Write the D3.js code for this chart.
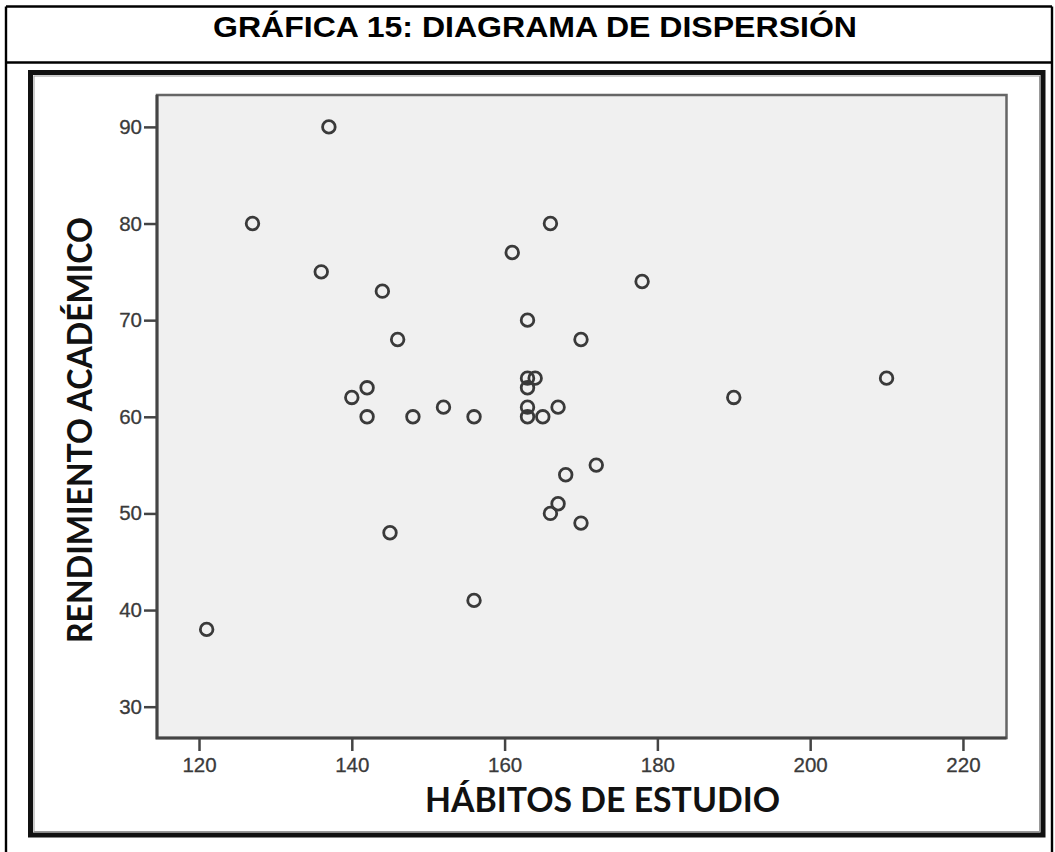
<!DOCTYPE html>
<html>
<head>
<meta charset="utf-8">
<script src="https://cdn.jsdelivr.net/npm/d3@7"></script>
<style>
  body { margin: 0; background: #fff; }
  svg { display: block; }
</style>
</head>
<body>
<div id="chart_div"></div>
<script>
// habitos de estudio (x) vs rendimiento academico (y)
var habitos = [121, 127, 136, 137, 140, 142, 142, 144, 145, 146, 148, 152, 156, 156, 161,
               163, 163, 164, 163, 163, 163, 165, 166, 166, 167, 167, 168, 170, 170, 172,
               178, 190, 210];
var rendimiento = [38, 80, 75, 90, 62, 63, 60, 73, 48, 68, 60, 61, 60, 41, 77,
                   70, 64, 64, 63, 61, 60, 60, 80, 50, 61, 51, 54, 68, 49, 55,
                   74, 62, 64];

var x_ticks = [120, 140, 160, 180, 200, 220];
var y_ticks = [30, 40, 50, 60, 70, 80, 90];

var title_text = 'GRÁFICA 15: DIAGRAMA DE DISPERSIÓN';
var x_label = 'HÁBITOS DE ESTUDIO';
var y_label = 'RENDIMIENTO ACADÉMICO';

function scatter_chart() {
    var width = 1055, height = 852;
    var plot = {left: 157, right: 1006.5, top: 95, bottom: 738};

    var svg = d3.select('#chart_div')
        .append('svg')
        .attr('width', width)
        .attr('height', height);

    // table cell borders round the title
    var table = svg.append('g')
        .attr('stroke', '#000')
        .attr('stroke-width', 2.4);
    table.append('line').attr('x1', 6).attr('x2', 1052).attr('y1', 6.5).attr('y2', 6.5);
    table.append('line').attr('x1', 6).attr('x2', 1052).attr('y1', 62.5).attr('y2', 62.5);
    table.append('line').attr('x1', 6).attr('x2', 6).attr('y1', 6.5).attr('y2', height);
    table.append('line').attr('x1', 1052).attr('x2', 1052).attr('y1', 6.5).attr('y2', height);

    svg.append('text')
        .attr('x', 535)
        .attr('y', 36.5)
        .attr('text-anchor', 'middle')
        .attr('textLength', 644)
        .attr('lengthAdjust', 'spacingAndGlyphs')
        .style('font-family', '"Liberation Sans", Arial, sans-serif')
        .style('font-weight', 700)
        .style('font-size', '30px')
        .text(title_text);

    // thick frame round the pasted chart image
    svg.append('rect')
        .attr('x', 30.5)
        .attr('y', 72.5)
        .attr('width', 1043 - 30.5)
        .attr('height', 835 - 72.5)
        .attr('fill', '#fff')
        .attr('stroke', '#111')
        .attr('stroke-width', 5);
    svg.append('rect')
        .attr('x', 34)
        .attr('y', 76)
        .attr('width', 1039.5 - 34)
        .attr('height', 831.5 - 76)
        .attr('fill', 'none')
        .attr('stroke', '#999')
        .attr('stroke-width', 1);

    var x = d3.scaleLinear().domain([114.5, 225.7]).range([plot.left, plot.right]);
    var y = d3.scaleLinear().domain([26.76, 93.3]).range([plot.bottom, plot.top]);

    svg.append('rect')
        .attr('x', plot.left)
        .attr('y', plot.top)
        .attr('width', plot.right - plot.left)
        .attr('height', plot.bottom - plot.top)
        .attr('fill', '#f0f0f0')
        .attr('stroke', '#666')
        .attr('stroke-width', 2.5);
    // left and bottom axis lines are a bit darker
    svg.append('path')
        .attr('d', `M${plot.left},${plot.top}V${plot.bottom}H${plot.right}`)
        .attr('fill', 'none')
        .attr('stroke', '#444')
        .attr('stroke-width', 3);

    var y_axis = svg.append('g')
        .attr('transform', `translate(${plot.left}, 0)`)
        .call(d3.axisLeft(y).tickValues(y_ticks).tickSize(13).tickPadding(2));

    var x_axis = svg.append('g')
        .attr('transform', `translate(0, ${plot.bottom})`)
        .call(d3.axisBottom(x).tickValues(x_ticks).tickSize(13).tickPadding(6));

    [x_axis, y_axis].forEach(function(ax) {
        ax.select('.domain').remove();
        ax.selectAll('.tick line').attr('stroke', '#444').attr('stroke-width', 2.5);
        ax.selectAll('.tick text')
            .attr('fill', '#3a3a3a')
            .attr('stroke', '#3a3a3a')
            .attr('stroke-width', 0.3)
            .style('font-family', '"Liberation Sans", Arial, sans-serif')
            .style('font-size', '20.5px');
    });

    svg.append('g')
        .selectAll('circle')
        .data(habitos)
        .enter()
        .append('circle')
        .attr('cx', d => x(d))
        .attr('cy', (d, i) => y(rendimiento[i]))
        .attr('r', 6.3)
        .attr('fill', 'none')
        .attr('stroke', '#3a3a3a')
        .attr('stroke-width', 2.8);

    svg.append('text')
        .attr('x', 602.5)
        .attr('y', 811.5)
        .attr('text-anchor', 'middle')
        .attr('textLength', 355)
        .attr('lengthAdjust', 'spacingAndGlyphs')
        .style('font-family', 'Lato, "Open Sans", sans-serif')
        .style('font-weight', 700)
        .style('font-size', '34px')
        .attr('fill', '#111')
        .text(x_label);

    svg.append('text')
        .attr('transform', 'translate(92, 430) rotate(-90)')
        .attr('text-anchor', 'middle')
        .attr('textLength', 426)
        .attr('lengthAdjust', 'spacingAndGlyphs')
        .style('font-family', 'Lato, "Open Sans", sans-serif')
        .style('font-weight', 700)
        .style('font-size', '34px')
        .attr('fill', '#111')
        .text(y_label);
}

document.addEventListener('DOMContentLoaded', scatter_chart);
</script>
</body>
</html>
